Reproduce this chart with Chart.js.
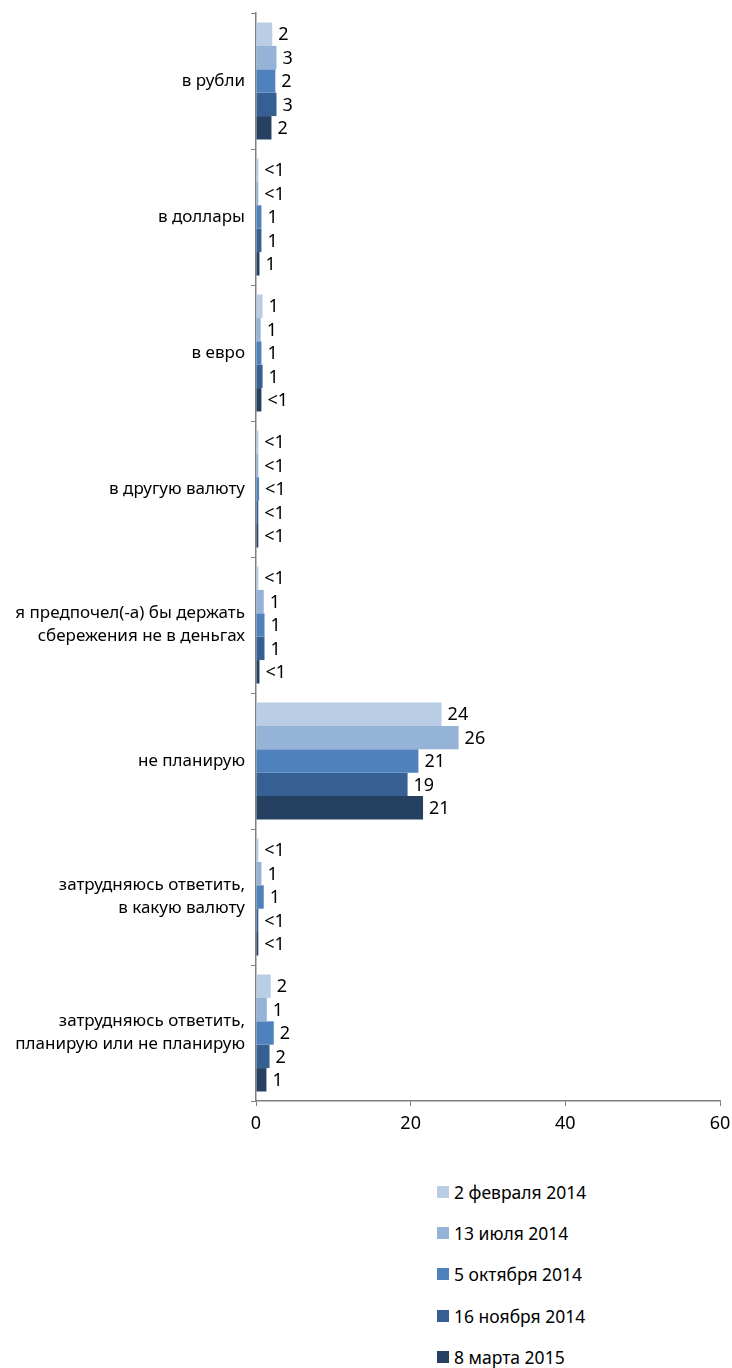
<!DOCTYPE html>
<html>
<head>
<meta charset="utf-8">
<script src="https://cdn.jsdelivr.net/npm/chart.js@4"></script>
<style>
  body { margin: 0; background: #fff; font-family: "Noto Sans", sans-serif; }
  #wrap { position: relative; width: 732px; height: 1140px; }
  #legend { margin: 31px 0 0 437px; padding: 0; list-style: none; }
  #legend li { height: 41.3px; display: flex; align-items: center; font-size: 17.5px; color: #000; }
  #legend span.box { width: 12px; height: 12px; margin-right: 5px; display: inline-block; }
</style>
</head>
<body>
<div id="wrap"><canvas id="savingsChart"></canvas></div>
<ul id="legend"></ul>
<script>
// categories (multi-line ones as arrays)
const categories = [
  'в рубли',
  'в доллары',
  'в евро',
  'в другую валюту',
  ['я предпочел(-а) бы держать', 'сбережения не в деньгах'],
  'не планирую',
  ['затрудняюсь ответить,', 'в какую валюту'],
  ['затрудняюсь ответить,', 'планирую или не планирую']
];

const seriesNames = ['2 февраля 2014', '13 июля 2014', '5 октября 2014', '16 ноября 2014', '8 марта 2015'];
const seriesColors = ['#b9cde5', '#95b3d7', '#4f81bd', '#376092', '#254061'];

// bar lengths
const feb2014 = [2.1, 0.3, 0.85, 0.3, 0.3, 24.0, 0.3, 1.9];
const jul2014 = [2.65, 0.3, 0.6, 0.3, 1.0, 26.2, 0.7, 1.4];
const oct2014 = [2.5, 0.7, 0.7, 0.4, 1.1, 21.0, 1.0, 2.3];
const nov2014 = [2.65, 0.7, 0.85, 0.3, 1.1, 19.6, 0.3, 1.75];
const mar2015 = [2.0, 0.45, 0.7, 0.3, 0.45, 21.6, 0.3, 1.35];

// printed labels next to the bars
const feb2014Labels = ['2', '<1', '1', '<1', '<1', '24', '<1', '2'];
const jul2014Labels = ['3', '<1', '1', '<1', '1', '26', '1', '1'];
const oct2014Labels = ['2', '1', '1', '<1', '1', '21', '1', '2'];
const nov2014Labels = ['3', '1', '1', '<1', '1', '19', '<1', '2'];
const mar2015Labels = ['2', '1', '<1', '<1', '<1', '21', '<1', '1'];

const xTicks = [0, 20, 40, 60];

const allValues = [feb2014, jul2014, oct2014, nov2014, mar2015];
const allLabels = [feb2014Labels, jul2014Labels, oct2014Labels, nov2014Labels, mar2015Labels];

const datasets = seriesNames.map(function (name, i) {
  return {
    label: name,
    data: allValues[i],
    valueLabels: allLabels[i],
    backgroundColor: seriesColors[i],
    borderWidth: 0,
    barPercentage: 1,
    categoryPercentage: 0.86
  };
});

// draws the little value text to the right of every bar
const valueLabelPlugin = {
  id: 'valueLabels',
  afterDatasetsDraw: (chart) => {
    const ctx = chart.ctx;
    ctx.save();
    ctx.font = '18px "Noto Sans"';
    ctx.fillStyle = '#000';
    ctx.textBaseline = 'middle';
    ctx.textAlign = 'left';
    chart.data.datasets.forEach(function (ds, di) {
      const meta = chart.getDatasetMeta(di);
      meta.data.forEach(function (bar, i) {
        ctx.fillText(ds.valueLabels[i], bar.x + 6, bar.y + 1);
      });
    });
    ctx.restore();
  }
};

const chart = new Chart(document.getElementById('savingsChart').getContext('2d'), {
  type: 'bar',
  data: { labels: categories, datasets: datasets },
  plugins: [valueLabelPlugin],
  options: {
    indexAxis: 'y',
    responsive: true,
    maintainAspectRatio: false,
    animation: false,
    layout: { padding: { top: 13, right: 12, left: 0, bottom: 0 } },
    plugins: {
      legend: { display: false },
      tooltip: { enabled: false }
    },
    scales: {
      x: {
        min: 0,
        max: 60,
        afterBuildTicks: (scale) => { scale.ticks = xTicks.map(v => ({ value: v })); },
        afterFit: (scale) => { scale.height = 39; scale.paddingLeft = 0; scale.paddingRight = 0; },
        border: { color: '#808080', width: 1.5 },
        grid: { drawOnChartArea: false, drawTicks: true, tickLength: 5, color: '#808080' },
        ticks: { color: '#000', font: { family: 'Noto Sans', size: 18 }, padding: 7 }
      },
      y: {
        afterFit: (scale) => { scale.width = 256; scale.paddingTop = 0; scale.paddingBottom = 0; },
        border: { color: '#808080', width: 1.5 },
        grid: { drawOnChartArea: false, drawTicks: true, tickLength: 5, color: '#808080', offset: true },
        ticks: { color: '#000', font: { family: 'Noto Sans', size: 17, lineHeight: 1.35 }, padding: 6 }
      }
    }
  }
});

// legend as plain html, one item per row
const legendEl = document.getElementById('legend');
seriesNames.forEach(function (name, i) {
  const li = document.createElement('li');
  li.innerHTML = '<span class="box" style="background:' + seriesColors[i] + '"></span>' + name;
  legendEl.appendChild(li);
});
</script>
</body>
</html>
